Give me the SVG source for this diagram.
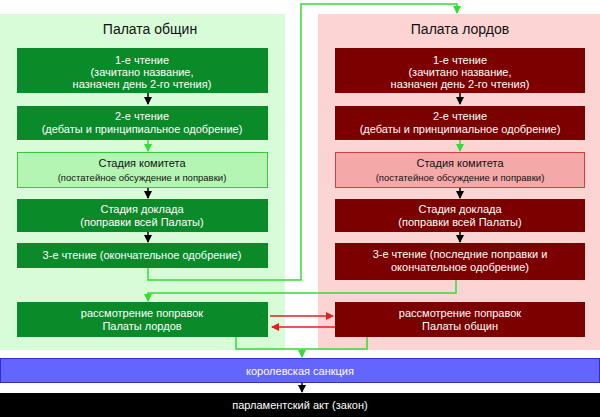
<svg xmlns="http://www.w3.org/2000/svg" width="600" height="417" viewBox="0 0 600 417">
<style>
text{font-family:"Liberation Sans",Arial,sans-serif;font-size:11px;text-anchor:middle;fill:#fff}
.t{font-size:14px;fill:#111}
.s{font-size:9.5px}
.dk{fill:#111}
.g{fill:#0b8a2a}.r{fill:#7d0000}
.lg{fill:#b4f5b4;stroke:#33cc33}.lr{fill:#f5a8a8;stroke:#d04040}
.cg{fill:none;stroke:#33dd33;stroke-width:1.5}
.cb{stroke:#000;stroke-width:1.5}
.cr{stroke:#e02020;stroke-width:1.5}
</style>
<defs>
<marker id="ab" markerWidth="8" markerHeight="8" refX="7" refY="4" orient="auto" markerUnits="userSpaceOnUse"><path d="M0,0L8,4L0,8z" fill="#000"/></marker>
<marker id="ag" markerWidth="8" markerHeight="8" refX="7" refY="4" orient="auto" markerUnits="userSpaceOnUse"><path d="M0,0L8,4L0,8z" fill="#33dd33"/></marker>
<marker id="ar" markerWidth="8" markerHeight="8" refX="7" refY="4" orient="auto" markerUnits="userSpaceOnUse"><path d="M0,0L8,4L0,8z" fill="#e02020"/></marker>
</defs>
<rect width="600" height="417" fill="#fff"/>
<rect x="0" y="14" width="285" height="336" fill="#d8fcd8"/>
<rect x="318" y="14" width="282" height="336" fill="#fdd4d4"/>
<text class="t" x="150" y="34">Палата общин</text>
<text class="t" x="460" y="34">Палата лордов</text>
<g id="connectors">
<path class="cb" d="M148 93V104" marker-end="url(#ab)"/>
<path class="cg" d="M148 140V151" marker-end="url(#ag)"/>
<path class="cb" d="M148 188V198" marker-end="url(#ab)"/>
<path class="cb" d="M148 232V242" marker-end="url(#ab)"/>
<path class="cb" d="M460 93V104" marker-end="url(#ab)"/>
<path class="cg" d="M460 140V151" marker-end="url(#ag)"/>
<path class="cb" d="M460 188V198" marker-end="url(#ab)"/>
<path class="cb" d="M460 232V242" marker-end="url(#ab)"/>
<path class="cg" d="M148 268V280H301V4H457V13" marker-end="url(#ag)"/>
<path class="cg" d="M456 280V293H148V301" marker-end="url(#ag)"/>
<path class="cr" d="M270 316H333" marker-end="url(#ar)"/>
<path class="cr" d="M335 327H272" marker-end="url(#ar)"/>
<path class="cg" d="M236 337V349H367V337M302 349V357" marker-end="url(#ag)"/>
<path class="cb" d="M302 382V392" marker-end="url(#ab)"/>
</g>
<g id="c1"><rect class="g" x="17" y="48" width="251" height="45"/><text x="142" y="64">1-е чтение</text><text x="142" y="76">(зачитано название,</text><text x="142" y="88">назначен день 2-го чтения)</text></g>
<g id="c2"><rect class="g" x="17" y="106" width="251" height="34"/><text x="142" y="120">2-е чтение</text><text x="142" y="133">(дебаты и принципиальное одобрение)</text></g>
<g id="c3"><rect class="lg" x="17.5" y="152.5" width="250" height="35"/><text class="dk" x="142" y="167">Стадия комитета</text><text class="dk s" x="142" y="181">(постатейное обсуждение и поправки)</text></g>
<g id="c4"><rect class="g" x="17" y="199" width="251" height="33"/><text x="142" y="213">Стадия доклада</text><text x="142" y="226">(поправки всей Палаты)</text></g>
<g id="c5"><rect class="g" x="17" y="243" width="251" height="25"/><text x="142" y="259">3-е чтение (окончательное одобрение)</text></g>
<g id="c6"><rect class="g" x="17" y="302" width="251" height="35"/><text x="142" y="317">рассмотрение поправок</text><text x="142" y="330">Палаты лордов</text></g>
<g id="l1"><rect class="r" x="335" y="48" width="250" height="45"/><text x="460" y="64">1-е чтение</text><text x="460" y="76">(зачитано название,</text><text x="460" y="88">назначен день 2-го чтения)</text></g>
<g id="l2"><rect class="r" x="335" y="106" width="250" height="34"/><text x="460" y="120">2-е чтение</text><text x="460" y="133">(дебаты и принципиальное одобрение)</text></g>
<g id="l3"><rect class="lr" x="335.5" y="152.5" width="249" height="35"/><text class="dk" x="460" y="167">Стадия комитета</text><text class="dk s" x="460" y="181">(постатейное обсуждение и поправки)</text></g>
<g id="l4"><rect class="r" x="335" y="199" width="250" height="33"/><text x="460" y="213">Стадия доклада</text><text x="460" y="226">(поправки всей Палаты)</text></g>
<g id="l5"><rect class="r" x="335" y="243" width="250" height="37"/><text x="460" y="258">3-е чтение (последние поправки и</text><text x="460" y="271">окончательное одобрение)</text></g>
<g id="l6"><rect class="r" x="335" y="302" width="250" height="35"/><text x="460" y="317">рассмотрение поправок</text><text x="460" y="330">Палаты общин</text></g>
<g id="royal"><rect x="0.5" y="358.5" width="599" height="24" fill="#6464ff" stroke="#3030c0"/><text x="300" y="375">королевская санкция</text></g>
<g id="act"><rect x="0" y="393" width="600" height="24" fill="#000"/><text x="300" y="409">парламентский акт (закон)</text></g>
</svg>
